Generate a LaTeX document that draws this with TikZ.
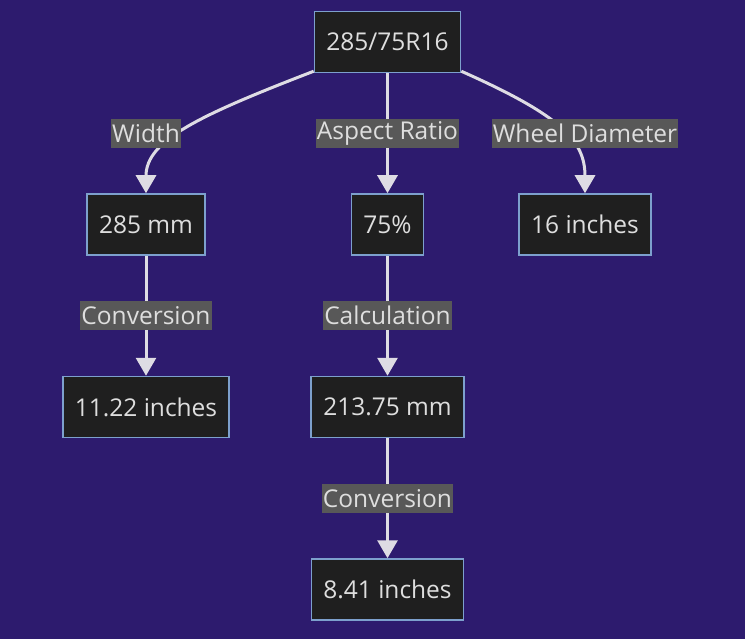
\documentclass[tikz,border=0pt]{standalone}
\usepackage{fontspec}
\setmainfont{Open Sans}
\usetikzlibrary{positioning, arrows.meta, calc}

\definecolor{bgcol}{RGB}{45,27,110}
\definecolor{boxfill}{RGB}{31,31,31}
\definecolor{boxline}{RGB}{125,160,205}
\definecolor{lblfill}{RGB}{88,88,88}
\definecolor{txtcol}{RGB}{222,222,222}
\definecolor{linecol}{RGB}{222,220,228}

\begin{document}
\begin{tikzpicture}[
    x=1pt, y=-1pt,
    >=LaTeX,
    % Styles
    box/.style={
        rectangle,
        fill=boxfill,
        draw=boxline,
        line width=1.5pt,
        minimum height=61pt,
        inner xsep=12pt,
        text=txtcol,
        font=\fontsize{24.5}{28}\selectfont
    },
    lbl/.style={
        rectangle,
        fill=lblfill,
        minimum height=29pt,
        inner xsep=1pt,
        inner ysep=2pt,
        text=txtcol,
        font=\fontsize{24.5}{28}\selectfont
    },
    arrow/.style={
        -{Triangle[length=18pt, width=20pt]},
        line width=3pt,
        draw=linecol
    }
]
    \useasboundingbox[fill=bgcol] (0,0) rectangle (745,639);

    % Boxes
    \node[box] (tyre) at (387.5,42) {285/75R16};
    \node[box, below=120pt of tyre, xshift=-241.5pt] (width) {285 mm};
    \node[box, below=120pt of tyre] (ratio) {75\%};
    \node[box, below=120pt of tyre, xshift=197.5pt] (wheel) {16 inches};
    \node[box, below=120pt of width] (widthin) {11.22 inches};
    \node[box, below=120pt of ratio] (height) {213.75 mm};
    \node[box, below=120pt of height] (heightin) {8.41 inches};

    % Paths
    \draw[arrow] ([yshift=2pt]tyre.south west) .. controls +(-114,44) and +(0,-53) .. (width.north);
    \draw[arrow] ([yshift=2pt]tyre.south east) .. controls +(99,44) and +(0,-53) .. (wheel.north);
    \draw[arrow] (tyre) -- (ratio);
    \draw[arrow] (width) -- (widthin);
    \draw[arrow] (ratio) -- (height);
    \draw[arrow] (height) -- (heightin);

    % Labels
    \node[lbl] (lblratio) at ($(tyre.south)!0.5!(ratio.north)$) {Aspect Ratio};
    \node[lbl] (lblwidth) at (width |- lblratio) {Width};
    \node[lbl] (lblwheel) at (wheel |- lblratio) {Wheel Diameter};
    \node[lbl] (lblconv) at ($(width.south)!0.5!(widthin.north)$) {Conversion};
    \node[lbl] (lblcalc) at ($(ratio.south)!0.5!(height.north)$) {Calculation};
    \node[lbl] (lblconv2) at ($(height.south)!0.5!(heightin.north)$) {Conversion};
\end{tikzpicture}
\end{document}
